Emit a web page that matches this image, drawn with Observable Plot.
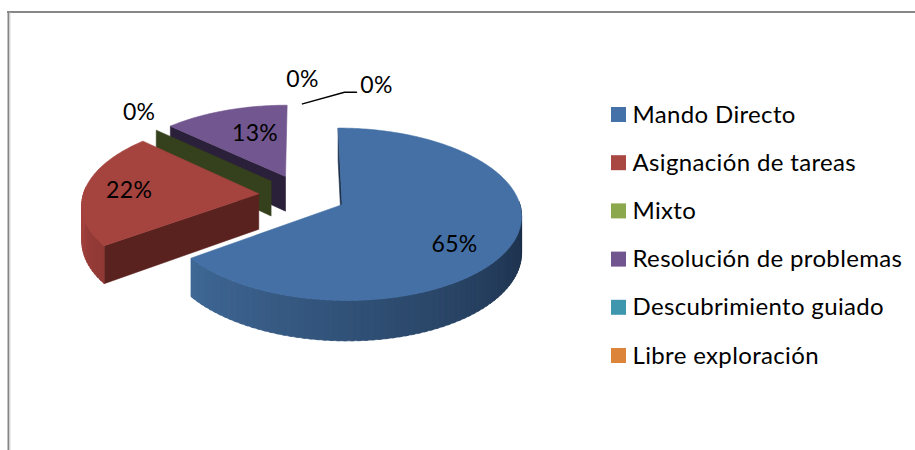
<!DOCTYPE html>
<html><head><meta charset="utf-8">
<style>html,body{margin:0;padding:0;background:#fff}svg{display:block}</style>
<script src="https://cdn.jsdelivr.net/npm/d3@7"></script>
<script src="https://cdn.jsdelivr.net/npm/@observablehq/plot@0.6"></script>
</head><body><div id="chart"></div>
<script>
const categories = ["Mando Directo","Asignación de tareas","Mixto","Resolución de problemas","Descubrimiento guiado","Libre exploración"];
const values = [65,22,0,13,0,0];
const topColors = ["#4470a6","#a5433f","#8ca84d","#72568f","#3f97ae","#dc843a"];
const legendColors = ["#4472a8","#a94743","#8ca84d","#70558f","#3f97ae","#dc843a"];
const radialColors = ["#1b2f48","#5a221e","#35411c","#2b2039","#1f4f5c","#7a4a1e"];
const arcNear = ["#3f6896","#8f3935","#5f7233","#4c3a60","#2f7386","#a86430"];
const arcFar = ["#1a2c45","#a5433f","#5f7233","#4c3a60","#2f7386","#a86430"];
const labelDx = [-4,-8,4,13,0,74];
const labelDy = [12,0,-8,5,-12,-6];
const labelRadius = [0.7,0.7,1.2,0.7,1.2,1.2];
const paintOrder = [5,4,3,2,1,0];

// projection of the tilted pie
const cx = 302, cy = 194.6, R = 175.6, Rt = 83, k = 0.11, depth = 35.5, explode = 0.25;
const total = d3.sum(values);
const rad = d => d * Math.PI / 180;
let acc = 0;
const slices = values.map((v,i) => {
  const t0 = acc / total * 360; acc += v; const t1 = acc / total * 360;
  const m = rad((t0 + t1) / 2);
  return {i, v, t0, t1, mid:(t0+t1)/2, a0: explode*Math.sin(m), b0: -explode*Math.cos(m)};
});
function project(s, deg, r, h = 0) {
  const a = s.a0 + r*Math.sin(rad(deg)), b = s.b0 - r*Math.cos(rad(deg));
  const f = 1/(1 - k*b);
  return {x: cx + R*a*f, y: cy + Rt*b*f + depth*f*h};
}
const polys = [];
let pid = 0;
function addPoly(points, fill){ const id = pid++; [...points, points[0]].forEach(p => polys.push({...p,id,fill})); }
for (const i of paintOrder) {
  const s = slices[i];
  if (s.t0 < 360) addPoly([project(s,s.t0,0),project(s,s.t0,1),project(s,s.t0,1,1),project(s,s.t0,0,1)], radialColors[i]);
  if (s.v > 0) {
    const color = d3.scaleLinear().domain([234, i === 0 ? 90 : 270]).range([arcNear[i],arcFar[i]]).clamp(true);
    for (let t = s.t0; t < s.t1; t += 2) {
      if (Math.cos(rad(t)) > 0.05) continue;           // walls on the far side are hidden
      const e = Math.min(t+3, s.t1);
      addPoly([project(s,t,1),project(s,e,1),project(s,e,1,1),project(s,t,1,1)], color(t+1));
    }
    const arc = [project(s,s.t0,0)];
    for (let t = s.t0; t < s.t1; t += 1) arc.push(project(s,t,1));
    arc.push(project(s,s.t1,1));
    addPoly(arc, topColors[i]);
  }
}
const labels = slices.map(s => {
  const p = project(s, s.mid, labelRadius[s.i]);
  return {text: `${s.v}%`, x: p.x + labelDx[s.i], y: p.y + labelDy[s.i]};
});
const leaderSrc = project(slices[5], 0, 1);
const leader = [leaderSrc, {x: labels[5].x - 32, y: labels[5].y + 7}, {x: labels[5].x - 20, y: labels[5].y + 7}];

// legend layout
const legendTop = 114.5, legendStep = 48.2, swatchX = 611, swatch = 15, legendTextX = 632;
const legendRows = categories.map((c,i) => ({c, color: legendColors[i], y: legendTop + i*legendStep}));
// frame
const frameLeft = 8, frameTop = 11.5, W = 915, H = 450;

const chart = Plot.plot({
  width: W, height: H, margin: 0,
  x: {domain:[0,W], range:[0,W], axis:null},
  y: {domain:[0,H], range:[0,H], axis:null},
  color: {type:"identity"},
  style: {fontFamily:"Lato, sans-serif", background:"#fff", letterSpacing:"0.35px"},
  marks: [
    Plot.ruleY([frameTop],{x1:frameLeft-1,x2:W,stroke:"#878787",strokeWidth:2}),
    Plot.ruleX([frameLeft],{y1:frameTop,y2:H,stroke:"#878787",strokeWidth:2}),
    Plot.ruleX([frameLeft+1.5],{y1:frameTop+1,y2:H,stroke:"#dddddd",strokeWidth:1}),
    Plot.line(polys,{x:"x",y:"y",z:"id",fill:"fill",stroke:"fill",strokeWidth:0.6}),
    Plot.line(leader,{x:"x",y:"y",stroke:"#000",strokeWidth:1.5}),
    Plot.text(labels,{x:"x",y:"y",text:"text",fill:"#000",fontSize:23,textAnchor:"middle",lineAnchor:"middle"}),
    Plot.rect(legendRows,{x1:()=>swatchX,x2:()=>swatchX+swatch,y1:d=>d.y-swatch/2,y2:d=>d.y+swatch/2,fill:"color"}),
    Plot.text(legendRows,{x:()=>legendTextX,y:"y",text:"c",fill:"#000",fontSize:24,textAnchor:"start",lineAnchor:"middle"})
  ]
});
document.getElementById("chart").append(chart);
</script></body></html>
